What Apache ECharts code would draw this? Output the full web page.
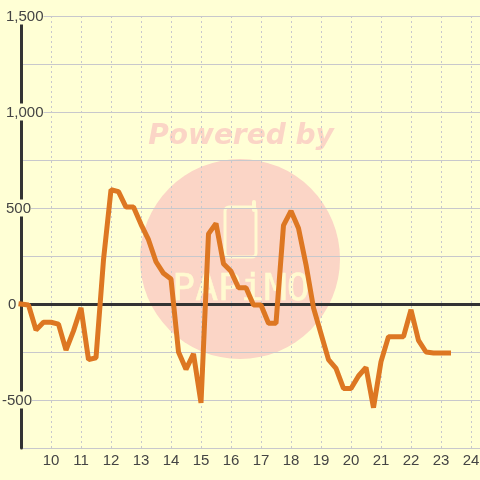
<!DOCTYPE html>
<html>
<head>
<meta charset="utf-8">
<style>
  html, body { margin: 0; padding: 0; background: #ffffd5; }
  #chart { width: 480px; height: 480px; }
</style>
<script src="https://cdn.jsdelivr.net/npm/echarts@6/dist/echarts.min.js"></script>
</head>
<body>
<div id="chart"></div>
<script>
// time of day, one reading every 15 minutes
const hours = [
  9, 9.25, 9.5, 9.75, 10, 10.25, 10.5, 10.75, 11, 11.25, 11.5, 11.75,
  12, 12.25, 12.5, 12.75, 13, 13.25, 13.5, 13.75, 14, 14.25, 14.5, 14.75,
  15, 15.25, 15.5, 15.75, 16, 16.25, 16.5, 16.75, 17, 17.25, 17.5, 17.75,
  18, 18.25, 18.5, 18.75, 19, 19.25, 19.5, 19.75, 20, 20.25, 20.5, 20.75,
  21, 21.25, 21.5, 21.75, 22, 22.25, 22.5, 22.75, 23, 23.25
];
const values = [
  0, -5, -135, -95, -95, -105, -240, -140, -20, -290, -280, 230,
  595, 585, 505, 505, 415, 335, 220, 160, 130, -250, -340, -260,
  -515, 365, 420, 210, 170, 85, 85, -5, -5, -100, -100, 410,
  485, 395, 205, -20, -155, -290, -335, -440, -440, -375, -330, -540,
  -300, -170, -170, -170, -30, -190, -250, -255, -255, -255
];
const yLabelTicks = [-500, 0, 500, 1000, 1500];

const bg = '#ffffd5';
const textColor = '#444';
const gridColor = '#c8c8cc';
const axisColor = '#333';
const pink = '#fbd5c6';
const cream = '#fffad0';

const chart = echarts.init(document.getElementById('chart'));

const labelStyle = { color: textColor, fontFamily: 'Liberation Sans', fontSize: 15, lineHeight: 15, backgroundColor: bg };

const option = {
  backgroundColor: bg,
  animation: false,
  grid: { left: 21, right: 0, top: 16, bottom: 32, outerBoundsMode: 'none' },
  // watermark sits under the grid lines
  graphic: [
    { type: 'circle', z: -10, shape: { cx: 240, cy: 259, r: 100 }, style: { fill: pink } },
    {
      type: 'text', z: -10, x: 241, y: 137,
      style: {
        text: 'Powered by', fill: pink, align: 'center', verticalAlign: 'middle',
        font: 'italic bold 28px "DejaVu Sans"'
      }
    },
    {
      type: 'rect', z: -9, shape: { x: 225, y: 207, width: 31, height: 50, r: 4 },
      style: { fill: 'none', stroke: cream, lineWidth: 3 }
    },
    {
      type: 'line', z: -9, shape: { x1: 254, y1: 202, x2: 254, y2: 210 },
      style: { stroke: cream, lineWidth: 4, lineCap: 'round' }
    },
    {
      type: 'text', z: -9, x: 241, y: 290,
      style: {
        text: 'PAPiMO', fill: cream, stroke: cream, lineWidth: 0.5, align: 'center', verticalAlign: 'middle',
        font: '38px "DejaVu Sans Mono"'
      }
    }
  ],
  xAxis: [
    {
      type: 'value',
      min: 9,
      max: 24.3,
      interval: 1,
      position: 'bottom',
      axisLine: { onZero: false, show: false },
      axisTick: { show: false },
      axisLabel: {
        color: textColor,
        fontFamily: 'Liberation Sans',
        fontSize: 15,
        margin: 5,
        showMinLabel: false,
        showMaxLabel: false
      },
      splitLine: { show: true, lineStyle: { color: gridColor, type: [2, 3], width: 1 } }
    },
    {
      // thick line on y = 0
      type: 'value',
      min: 9,
      max: 24.3,
      position: 'bottom',
      axisLine: { show: true, onZero: true, lineStyle: { color: axisColor, width: 3 } },
      axisTick: { show: false },
      axisLabel: { show: false },
      splitLine: { show: false }
    }
  ],
  yAxis: {
    type: 'value',
    min: -750,
    max: 1500,
    interval: 250,
    axisLine: { show: true, lineStyle: { color: axisColor, width: 3 } },
    axisTick: { show: false },
    axisLabel: {
      margin: 19,
      align: 'left',
      showMinLabel: true,
      showMaxLabel: true,
      formatter: function (v) {
        if (yLabelTicks.indexOf(v) < 0) return '';
        const s = v.toLocaleString('en-US');
        if (v < 0) return '{n|' + s + '}';
        if (v === 0) return '{z|' + s + '}';
        return '{p|' + s + '}';
      },
      rich: {
        n: { ...labelStyle, padding: [2, 0, 0, 0] },
        z: { ...labelStyle, padding: [2, 0, 0, 6] },
        p: { ...labelStyle, padding: [2, 0, 0, 4] }
      }
    },
    splitLine: { show: true, lineStyle: { color: gridColor, width: 1 } }
  },
  series: [{
    type: 'line',
    xAxisIndex: 0,
    data: hours.map((h, i) => [h, values[i]]),
    symbol: 'none',
    smooth: false,
    clip: false,
    lineStyle: { color: '#dd7722', width: 5, join: 'bevel', cap: 'square' }
  }]
};

chart.setOption(option);
</script>
</body>
</html>
